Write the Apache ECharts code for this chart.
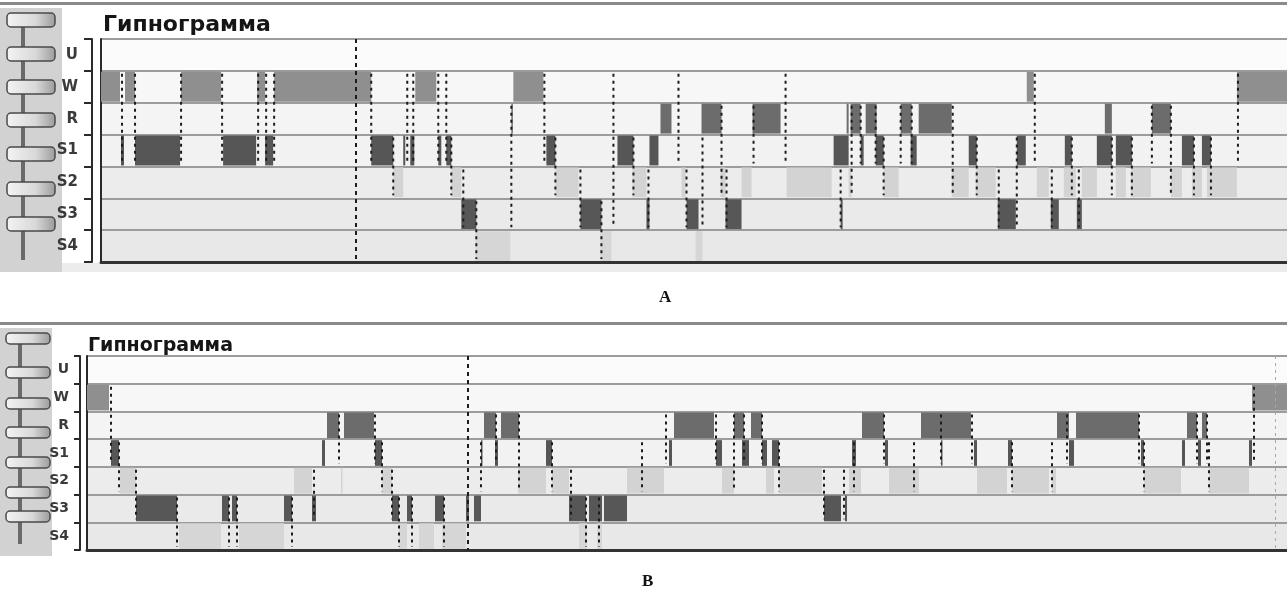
<!DOCTYPE html>
<html>
<head>
<meta charset="utf-8">
<script src="https://cdn.jsdelivr.net/npm/echarts@6/dist/echarts.min.js"></script>
<style>
html, body { margin: 0; padding: 0; background: #fff; }
#chart { width: 1287px; height: 592px; }
</style>
</head>
<body>
<div id="chart"></div>
<script>
// stages, top to bottom
var stages = ['U', 'W', 'R', 'S1', 'S2', 'S3', 'S4'];

// record A, minutes from start: [start, end]
var aW  = [[0, 7.6], [9.6, 13.6], [32, 48], [62.4, 65.6], [69.2, 108], [125.6, 134], [164.8, 176.8], [370, 372.8], [454, 474]];
var aR  = [[164, 164.6], [223.6, 228], [240, 248], [260.4, 271.6], [298, 298.8], [299.6, 303.6], [305.6, 310], [319.6, 324], [326.8, 340], [401.2, 404], [420, 427.6]];
var aS1 = [[8, 9.2], [13.6, 31.6], [48.8, 62], [65.6, 68.8], [108, 116.8], [120.8, 121.6], [123.6, 125.2], [134.8, 136], [138, 140], [178, 181.6], [206.4, 212.8], [219.2, 222.8], [292.8, 298.8], [303.6, 304.8], [309.6, 312.8], [323.6, 326], [346.8, 350], [366, 369.6], [385.2, 388], [398, 404], [405.6, 412], [432, 436.8], [440, 443.6]];
var aS2 = [[116.8, 120.8], [140, 144], [181.6, 190.8], [212.4, 218], [232, 233.6], [247.6, 249.6], [256, 260], [274, 292], [298.8, 300], [312.8, 318.8], [340, 346.8], [349.6, 357.6], [374, 378.8], [384.8, 389.6], [392, 398], [405.6, 409.6], [411.6, 419.6], [427.6, 432], [436, 440], [442, 454]];
var aS3 = [[144, 150], [191.6, 200], [218, 219.2], [234, 238.8], [249.6, 256], [295.6, 296.4], [358.4, 365.6], [379.6, 382.8], [390, 392]];
var aS4 = [[149.6, 163.6], [199.6, 204], [237.6, 240.4]];
// transitions: [time, from row, to row]
var aLinks = [[8.4, 1, 3], [13.6, 1, 3], [32, 1, 3], [48.4, 1, 3], [62.8, 1, 3], [66, 1, 3], [69.2, 1, 3], [108, 1, 3], [116.8, 3, 4], [122.4, 1, 3], [124.8, 1, 3], [134.8, 1, 3], [138, 1, 3], [140, 3, 4], [144.8, 4, 5], [150, 5, 6], [164, 2, 5], [177.2, 1, 3], [181.6, 3, 4], [191.6, 4, 5], [200, 5, 6], [204.8, 1, 5], [212.8, 3, 4], [218.8, 4, 5], [230.8, 1, 3], [234, 4, 5], [240.4, 3, 5], [248, 2, 4], [250, 4, 5], [260.8, 2, 3], [273.6, 1, 3], [295.6, 4, 5], [300, 2, 4], [303.6, 2, 3], [309.6, 2, 3], [312.8, 3, 4], [319.6, 2, 3], [324, 2, 3], [340.4, 2, 4], [350, 3, 4], [358.8, 4, 5], [366, 3, 5], [373.2, 1, 3], [380, 4, 5], [388, 3, 4], [390.8, 4, 5], [404, 3, 4], [412, 3, 4], [420, 2, 3], [427.6, 2, 4], [436.8, 3, 4], [443.6, 3, 4], [454.4, 1, 3]];
var aCursor = 102;
var aMax = 474;

// record B
var bW  = [[0, 8.8], [466, 480]];
var bR  = [[96, 100.8], [102.8, 114.8], [158.8, 163.6], [165.6, 172.8], [234.8, 250.8], [258.8, 262.8], [265.6, 270], [310, 318.8], [333.6, 353.6], [388, 392.8], [395.6, 420.8], [440, 444], [446, 448]];
var bS1 = [[9.6, 12.8], [94, 95.2], [115.2, 118], [157.6, 158.2], [163.2, 164.4], [183.6, 186], [232.8, 234], [251.6, 254], [262, 264.8], [270, 272], [274, 276.8], [306, 307.6], [319.2, 320.4], [341.6, 342.2], [354.8, 356], [368.4, 370], [392.8, 394.8], [421.6, 422.8], [438, 439.2], [444.4, 445.6], [464.8, 466]];
var bS2 = [[13.2, 19.6], [82.8, 90], [101.6, 102.2], [118, 122], [172.4, 183.6], [186, 192.8], [216, 230.8], [254, 258.8], [271.6, 274.8], [276.8, 294], [304.8, 309.6], [320.8, 332.8], [356, 368], [370, 384.8], [386, 387.6], [422.8, 437.6], [448.8, 464.8]];
var bS3 = [[19.6, 36], [54, 56.8], [58, 60], [78.8, 82], [90, 91.6], [122, 124.8], [128, 130], [139.2, 142.8], [151.6, 152.8], [154.8, 157.6], [192.8, 199.6], [200.8, 206], [206.8, 216], [294.8, 301.6], [303.2, 304]];
var bS4 = [[36.8, 53.6], [60.8, 78.8], [124.8, 128], [132.8, 138.8], [142, 151.6], [196.8, 200], [204, 206]];
var bLinks = [[9.6, 1, 3], [12.8, 3, 4], [19.6, 4, 5], [36, 5, 6], [56.8, 5, 6], [60, 5, 6], [82, 5, 6], [90.8, 4, 5], [100.8, 2, 3], [115.2, 2, 3], [118, 3, 4], [122, 4, 5], [124.8, 5, 6], [130, 5, 6], [142.8, 5, 6], [157.6, 3, 4], [163.6, 2, 3], [172.8, 2, 4], [186, 3, 4], [193.6, 4, 5], [199.6, 5, 6], [204.8, 5, 6], [222, 3, 4], [231.6, 2, 3], [251.6, 2, 3], [258.8, 2, 4], [262.8, 2, 3], [270, 2, 3], [276.8, 3, 4], [294.8, 4, 5], [302.8, 4, 5], [306.8, 3, 4], [318.8, 2, 3], [330.8, 3, 4], [341.6, 2, 3], [354, 2, 3], [370, 3, 4], [386, 3, 4], [392, 2, 3], [420.8, 2, 3], [422.8, 3, 4], [444, 2, 3], [448, 2, 3], [448.8, 3, 4], [466.8, 1, 3]];
var bCursor = 152.4;
var bEnd = 475.2;
var bMax = 480;

var stageColors = [null, '#8f8f8f', '#6c6c6c', '#565656', '#d3d3d3', '#575757', '#d6d6d6'];
var rowBg = ['#fbfbfb', '#f7f7f7', '#f4f4f4', '#f2f2f2', '#ececec', '#eaeaea', '#e8e8e8'];

function toBlocks(list) {
    var out = [];
    list.forEach(function (iv, k) {
        if (k === 0) return;
        iv.forEach(function (p) { out.push([p[0], p[1], k]); });
    });
    return out;
}
var blocksA = toBlocks([[], aW, aR, aS1, aS2, aS3, aS4]);
var blocksB = toBlocks([[], bW, bR, bS1, bS2, bS3, bS4]);

function renderBlock(params, api) {
    var row = api.value(2);
    var p0 = api.coord([api.value(0), row]);
    var p1 = api.coord([api.value(1), row]);
    var h = api.size([0, 1])[1];
    return {
        type: 'rect',
        shape: { x: p0[0], y: p0[1] - h / 2 + 1, width: Math.max(p1[0] - p0[0], 1.5), height: h - 2 },
        style: { fill: stageColors[row] }
    };
}

function renderLink(params, api) {
    var t = api.value(0);
    var h = api.size([0, 1])[1];
    var a = api.coord([t, api.value(1)]);
    var b = api.coord([t, api.value(2)]);
    return {
        type: 'line',
        shape: { x1: a[0], y1: a[1] - h / 2 + 3, x2: a[0], y2: b[1] + h / 2 - 3 },
        style: { stroke: '#1c1c1c', lineWidth: 2, lineDash: [3, 4] }
    };
}

function yAxes(gi, off, margin, tick, font) {
    return [{
        type: 'category', gridIndex: gi, data: stages, inverse: true, offset: off,
        axisLine: { show: true, onZero: false, lineStyle: { color: '#2a2a2a', width: 2 } },
        axisTick: { show: true, interval: 0, length: tick, lineStyle: { color: '#2a2a2a', width: 2 } },
        axisLabel: { margin: margin, fontFamily: 'DejaVu Sans', fontWeight: 'bold', fontSize: font, color: '#3a3a3a' },
        splitLine: { show: true, lineStyle: { color: '#9c9c9c', width: 2 } },
        splitArea: { show: true, areaStyle: { color: rowBg } }
    }, {
        type: 'category', gridIndex: gi, data: stages, inverse: true, position: 'left', offset: 0,
        axisLine: { show: true, onZero: false, lineStyle: { color: '#2a2a2a', width: 2 } },
        axisTick: { show: false }, axisLabel: { show: false }, splitLine: { show: false }
    }];
}

function xAxis(gi, max) {
    return {
        type: 'value', gridIndex: gi, min: 0, max: max,
        axisLine: { show: true, onZero: false, lineStyle: { color: '#333', width: 3 } },
        axisTick: { show: false }, axisLabel: { show: false }, splitLine: { show: false }
    };
}

function sidebar(x, y, w, h, bx, bw, bh, ys) {
    var stem = bx + bw / 2 - 8;
    var els = [
        { type: 'rect', shape: { x: x, y: y, width: w, height: h }, style: { fill: '#d2d2d2' } },
        { type: 'line', shape: { x1: stem, y1: ys[0] + bh, x2: stem, y2: y + h - 12 }, style: { stroke: '#6a6a6a', lineWidth: 4 } }
    ];
    ys.forEach(function (yy) {
        els.push({
            type: 'rect', shape: { x: bx, y: yy, width: bw, height: bh, r: 4 },
            style: {
                fill: new echarts.graphic.LinearGradient(0, 0, 1, 0, [
                    { offset: 0, color: '#f4f4f4' }, { offset: 0.6, color: '#d8d8d8' }, { offset: 1, color: '#9a9a9a' }
                ]),
                stroke: '#4a4a4a', lineWidth: 1.5
            }
        });
    });
    return els;
}

var chart = echarts.init(document.getElementById('chart'));
var option = {
    animation: false,
    backgroundColor: '#ffffff',
    title: [
        { text: 'Гипнограмма', left: 98, top: 9, textStyle: { fontFamily: 'DejaVu Sans', fontSize: 22, fontWeight: 'bold', color: '#151515' } },
        { text: 'Гипнограмма', left: 83, top: 332, textStyle: { fontFamily: 'DejaVu Sans', fontSize: 19, fontWeight: 'bold', color: '#151515' } },
        { text: 'A', left: 654, top: 284, textStyle: { fontFamily: 'Liberation Serif', fontSize: 17, fontWeight: 'bold', color: '#111' } },
        { text: 'B', left: 637, top: 568, textStyle: { fontFamily: 'Liberation Serif', fontSize: 17, fontWeight: 'bold', color: '#111' } }
    ],
    grid: [
        { left: 101, right: 0, top: 39, height: 223 },
        { left: 87, right: 0, top: 356, height: 194 }
    ],
    xAxis: [xAxis(0, aMax), xAxis(1, bMax)],
    yAxis: yAxes(0, 9, 14, 8, 15).concat(yAxes(1, 7, 11, 6, 14)),
    graphic: [
        { type: 'line', shape: { x1: 0, y1: 3.5, x2: 1287, y2: 3.5 }, style: { stroke: '#8a8a8a', lineWidth: 3 } },
        { type: 'line', shape: { x1: 0, y1: 323.5, x2: 1287, y2: 323.5 }, style: { stroke: '#8a8a8a', lineWidth: 3 } },
        { type: 'rect', shape: { x: 62, y: 263, width: 1225, height: 9 }, style: { fill: '#ececec' } },
        { type: 'group', children: sidebar(0, 8, 62, 264, 7, 48, 14, [13, 47, 80, 113, 147, 182, 217]) },
        { type: 'group', children: sidebar(0, 328, 52, 228, 6, 44, 11, [333, 367, 398, 427, 457, 487, 511]) }
    ],
    series: [
        { type: 'custom', xAxisIndex: 0, yAxisIndex: 0, renderItem: renderBlock, encode: { x: [0, 1], y: 2 }, data: blocksA },
        {
            type: 'custom', xAxisIndex: 0, yAxisIndex: 0, renderItem: renderLink, encode: { x: 0, y: [1, 2] }, data: aLinks, z: 3,
            markLine: {
                symbol: 'none', silent: true, label: { show: false },
                lineStyle: { color: '#1c1c1c', width: 2, type: [4, 4] },
                data: [{ xAxis: aCursor }]
            }
        },
        { type: 'custom', xAxisIndex: 1, yAxisIndex: 2, renderItem: renderBlock, encode: { x: [0, 1], y: 2 }, data: blocksB },
        {
            type: 'custom', xAxisIndex: 1, yAxisIndex: 2, renderItem: renderLink, encode: { x: 0, y: [1, 2] }, data: bLinks, z: 3,
            markLine: {
                symbol: 'none', silent: true, label: { show: false },
                data: [
                    { xAxis: bCursor, lineStyle: { color: '#1c1c1c', width: 2, type: [4, 4] } },
                    { xAxis: bEnd, lineStyle: { color: '#a8a8a8', width: 1, type: [3, 4] } }
                ]
            }
        }
    ]
};
chart.setOption(option);
window.addEventListener('resize', function () { chart.resize(); });
</script>
</body>
</html>
